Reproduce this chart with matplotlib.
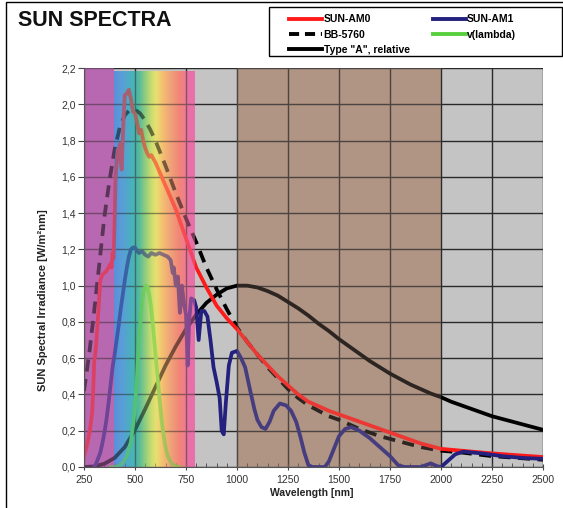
import matplotlib
matplotlib.use("Agg")
import matplotlib.pyplot as plt
import numpy as np
from matplotlib.colors import LinearSegmentedColormap
from matplotlib.lines import Line2D
from matplotlib.patches import Rectangle
from matplotlib.ticker import FuncFormatter, MultipleLocator

plt.rcParams['font.family'] = ['Liberation Sans', 'DejaVu Sans']

# ---------------- data ----------------
am0_wl = [250, 260, 270, 280, 290, 295, 300, 305, 310, 320, 330, 340, 350, 360, 370, 380, 385,
          390, 395, 400, 405, 410, 415, 420, 425, 430, 435, 440, 445, 450, 460, 470, 480, 490,
          500, 510, 520, 530, 540, 550, 560, 570, 580, 600, 650, 700, 750, 800, 850, 900, 950,
          1000, 1050, 1100, 1150, 1200, 1250, 1300, 1350, 1400, 1450, 1500, 1600, 1700, 1800,
          1900, 2000, 2100, 2250, 2500]
am0_val = [0.06, 0.10, 0.15, 0.21, 0.30, 0.42, 0.58, 0.62, 0.68, 0.85, 1.03, 1.06, 1.07, 1.08,
           1.10, 1.12, 1.10, 1.18, 1.15, 1.35, 1.60, 1.68, 1.75, 1.73, 1.78, 1.68, 1.64, 1.80,
           1.95, 2.05, 2.06, 2.08, 2.03, 1.96, 1.95, 1.90, 1.84, 1.86, 1.80, 1.76, 1.73, 1.71,
           1.72, 1.68, 1.55, 1.42, 1.26, 1.10, 0.99, 0.89, 0.82, 0.76, 0.69, 0.62, 0.56, 0.50,
           0.45, 0.40, 0.36, 0.335, 0.31, 0.29, 0.25, 0.21, 0.17, 0.13, 0.10, 0.09, 0.075, 0.055]

am1_wl = [300, 310, 320, 330, 340, 350, 360, 370, 380, 390, 400, 410, 420, 430, 440, 450, 460,
          470, 480, 490, 500, 510, 520, 535, 550, 565, 580, 600, 620, 640, 660, 675, 685, 690,
          700, 710, 720, 730, 740, 750, 758, 765, 775, 790, 800, 812, 825, 840, 855, 870, 885,
          900, 915, 925, 935, 945, 960, 975, 1000, 1020, 1040, 1065, 1085, 1100, 1120, 1140,
          1160, 1180, 1210, 1240, 1265, 1290, 1310, 1330, 1350, 1370, 1430, 1450, 1475, 1500,
          1530, 1560, 1600, 1650, 1700, 1750, 1790, 1820, 1900, 1950, 1980, 2000, 2030, 2070,
          2110, 2150, 2200, 2300, 2400, 2500]
am1_val = [0.0, 0.02, 0.05, 0.08, 0.13, 0.19, 0.26, 0.35, 0.45, 0.55, 0.62, 0.70, 0.78, 0.87,
           0.95, 1.03, 1.10, 1.16, 1.20, 1.21, 1.21, 1.19, 1.18, 1.19, 1.17, 1.16, 1.18, 1.17,
           1.18, 1.17, 1.16, 1.14, 1.07, 1.10, 1.00, 1.05, 0.85, 1.00, 0.90, 0.84, 0.56, 0.80,
           0.93, 0.92, 0.88, 0.70, 0.86, 0.86, 0.83, 0.70, 0.55, 0.47, 0.38, 0.20, 0.18, 0.35,
           0.56, 0.63, 0.64, 0.60, 0.55, 0.42, 0.32, 0.26, 0.22, 0.21, 0.25, 0.31, 0.35, 0.34,
           0.31, 0.25, 0.17, 0.08, 0.01, 0.0, 0.0, 0.03, 0.10, 0.17, 0.21, 0.22, 0.20, 0.16,
           0.11, 0.06, 0.01, 0.0, 0.0, 0.02, 0.005, 0.0, 0.03, 0.07, 0.085, 0.08, 0.075, 0.06,
           0.05, 0.045]

bb_wl = [250, 275, 300, 325, 350, 375, 400, 425, 450, 475, 500, 525, 550, 575, 600, 650, 700,
         750, 800, 850, 900, 950, 1000, 1050, 1100, 1150, 1200, 1250, 1300, 1350, 1400, 1450,
         1500, 1600, 1700, 1800, 1900, 2000, 2100, 2250, 2500]
bb_val = [0.42, 0.62, 0.86, 1.12, 1.38, 1.58, 1.75, 1.87, 1.94, 1.97, 1.97, 1.95, 1.91, 1.86,
          1.80, 1.66, 1.51, 1.37, 1.24, 1.10, 0.98, 0.87, 0.77, 0.69, 0.62, 0.55, 0.49, 0.43,
          0.38, 0.34, 0.31, 0.28, 0.26, 0.21, 0.17, 0.14, 0.11, 0.09, 0.08, 0.06, 0.04]

vl_wl = [380, 400, 420, 440, 460, 480, 500, 510, 520, 530, 540, 550, 555, 560, 570, 580, 590,
         600, 610, 620, 630, 640, 650, 660, 680, 700, 720]
vl_val = [0.0, 0.0004, 0.004, 0.023, 0.06, 0.139, 0.323, 0.503, 0.71, 0.862, 0.954, 0.995, 1.0,
          0.995, 0.952, 0.87, 0.757, 0.631, 0.503, 0.381, 0.265, 0.175, 0.107, 0.061, 0.017,
          0.004, 0.0]

ta_wl = [250, 300, 350, 400, 450, 500, 550, 600, 650, 700, 750, 800, 850, 900, 950, 1000, 1050,
         1100, 1150, 1200, 1250, 1300, 1350, 1400, 1450, 1500, 1550, 1600, 1650, 1700, 1750,
         1800, 1850, 1900, 1950, 2000, 2050, 2100, 2150, 2200, 2250, 2300, 2350, 2400, 2450, 2500]
ta_val = [0.0, 0.003, 0.018, 0.05, 0.11, 0.205, 0.32, 0.44, 0.56, 0.665, 0.76, 0.84, 0.905,
          0.95, 0.985, 1.0, 1.0, 0.99, 0.97, 0.945, 0.91, 0.875, 0.835, 0.79, 0.75, 0.705,
          0.665, 0.625, 0.585, 0.55, 0.515, 0.485, 0.455, 0.43, 0.405, 0.385, 0.36, 0.34, 0.32,
          0.30, 0.28, 0.265, 0.25, 0.235, 0.22, 0.205]

x_ticks = [250, 500, 750, 1000, 1250, 1500, 1750, 2000, 2250, 2500]
y_ticks = [0.0, 0.2, 0.4, 0.6, 0.8, 1.0, 1.2, 1.4, 1.6, 1.8, 2.0, 2.2]

# band limits (nm)
uv_band = (250, 397)
vis_band = (397, 794)
ir_band = (1000, 2000)

# ---------------- figure ----------------
fig = plt.figure(figsize=(5.63, 5.08), dpi=100)
ax = fig.add_axes([84 / 563, 1 - 467 / 508, (543 - 84) / 563, (467 - 68) / 508])
ax.set_facecolor('#c4c4c4')

magenta = '#b868b0'
brown = '#b09484'
rain_cols = [(0.0, '#5b90d8'), (0.10, '#5a9ed8'), (0.22, '#48b2bc'), (0.30, '#50b8a0'),
             (0.38, '#8ccc80'), (0.46, '#c8dc70'), (0.52, '#e8e070'), (0.60, '#f4c072'),
             (0.68, '#f0a878'), (0.80, '#f08878'), (0.88, '#f07c8c'), (0.92, '#e870a8'),
             (1.0, '#e870a8')]
cmap = LinearSegmentedColormap.from_list('rain', rain_cols)
grad = np.linspace(0, 1, 256).reshape(1, -1)


def draw_bands(alpha, z):
    ax.axvspan(*uv_band, ymin=0, ymax=1, color=magenta, alpha=alpha, zorder=z, lw=0)
    ax.imshow(grad, extent=[vis_band[0], vis_band[1], 0, 2.18], aspect='auto', cmap=cmap,
              alpha=alpha, zorder=z, interpolation='bilinear')
    ax.axvspan(*ir_band, color=brown, alpha=(1.0 if alpha == 1 else 0.25), zorder=z, lw=0)


draw_bands(1.0, 0.3)

ax.set_axisbelow('line')
ax.grid(True, which='major', color='#2a2a2a', lw=1.0)

lw = 2.7
ax.plot(ta_wl, ta_val, color='#000000', lw=lw, zorder=2.2)
ax.plot(bb_wl, bb_val, color='#000000', lw=lw, ls=(0, (3.2, 2.0)), zorder=2.3)
ax.plot(am0_wl, am0_val, color='#ff1a1a', lw=lw, zorder=2.4)
ax.plot(am1_wl, am1_val, color='#23207e', lw=lw, zorder=2.5)
ax.plot(vl_wl, vl_val, color='#5ad040', lw=lw, zorder=2.6)

draw_bands(0.5, 4)
ax.set_xlim(250, 2500)
ax.set_ylim(0, 2.2)

ax.set_xticks(x_ticks)
ax.xaxis.set_minor_locator(MultipleLocator(50))
ax.set_yticks(y_ticks)
ax.yaxis.set_major_formatter(FuncFormatter(lambda v, p: f"{v:.1f}".replace('.', ',')))
ax.tick_params(axis='both', labelsize=7.5, labelcolor='#333333', color='#444444')
ax.tick_params(axis='x', which='major', direction='inout', length=5, pad=3)
ax.tick_params(axis='x', which='minor', direction='in', length=3, color='#444444')
ax.tick_params(axis='y', direction='out', length=4, pad=2)
for s in ['top', 'right']:
    ax.spines[s].set_visible(False)
for s in ['left', 'bottom']:
    ax.spines[s].set_color('#555555')
    ax.spines[s].set_zorder(5)

fig.text(43 / 563, 1 - 300 / 508, 'SUN Spectral Irradiance [W/m²nm]', rotation=90,
         ha='center', va='center', fontsize=8, fontweight='bold', color='#222222')
fig.text(312 / 563, 1 - 493 / 508, 'Wavelength [nm]', ha='center', va='center',
         fontsize=7.5, fontweight='bold', color='#222222')
fig.text(18 / 563, 1 - 20 / 508, 'SUN SPECTRA', ha='left', va='center', fontsize=15.5,
         fontweight='bold', color='#111111')

# legend box
fig.patches.append(Rectangle((269 / 563, 1 - 56 / 508), (562 - 269) / 563, 49 / 508,
                             transform=fig.transFigure, facecolor='white',
                             edgecolor='#000000', lw=1.0, zorder=8))
handles = [Line2D([], [], color='#ff1a1a', lw=2.8),
           Line2D([], [], color='#000000', lw=2.8, ls=(0, (2.6, 1.5))),
           Line2D([], [], color='#000000', lw=2.8),
           Line2D([], [], color='#23207e', lw=2.8),
           Line2D([], [], color='#5ad040', lw=2.8)]
labels = ['SUN-AM0', 'BB-5760', 'Type "A", relative', 'SUN-AM1', 'v(lambda)']
leg = fig.legend(handles, labels, ncol=2, loc='upper left',
                 bbox_to_anchor=(289 / 563, 1 - 14.5 / 508),
                 borderaxespad=0, frameon=False, handlelength=3.2, handletextpad=0.12,
                 labelspacing=0.5, borderpad=0.0, columnspacing=2.2,
                 prop={'weight': 'bold', 'size': 7.5})
leg.set_zorder(9)

fig.patches.append(Rectangle((6 / 563, -0.05), 1.2, 1 - 2 / 508 + 0.05, transform=fig.transFigure,
                             fill=False, edgecolor='#000000', lw=1.0, zorder=10))

fig.savefig('out.png', dpi=100)
